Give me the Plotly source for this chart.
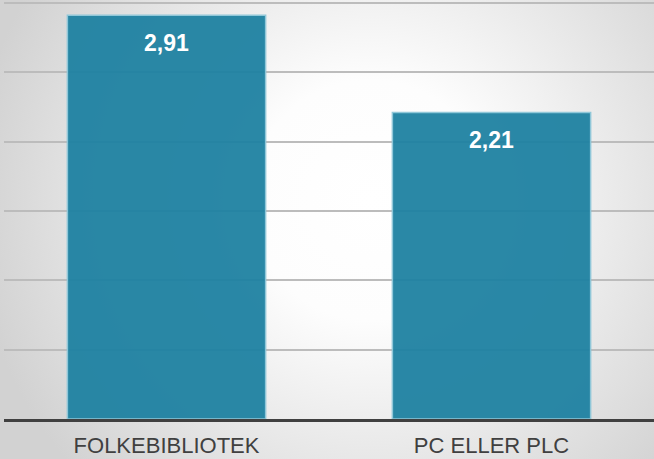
import base64
import plotly.graph_objects as go

categories = ["FOLKEBIBLIOTEK", "PC ELLER PLC"]
values = [2.91, 2.21]

W, H = 654, 459
ML, MR, MT, MB = 4, 0, 0, 40
pw, ph = W - ML - MR, H - MT - MB

svg = (
    "<svg xmlns='http://www.w3.org/2000/svg' width='654' height='459' viewBox='0 0 654 459' preserveAspectRatio='none'>"
    "<defs><radialGradient id='g' gradientUnits='userSpaceOnUse' cx='370' cy='200' r='400'>"
    "<stop offset='0' stop-color='#ffffff'/><stop offset='0.3' stop-color='#fdfdfd'/>"
    "<stop offset='1' stop-color='#d2d2d2'/></radialGradient></defs>"
    "<rect width='654' height='459' fill='url(#g)'/></svg>"
)
bg_uri = "data:image/svg+xml;base64," + base64.b64encode(svg.encode()).decode()

fig = go.Figure(
    go.Bar(
        x=categories,
        y=values,
        marker=dict(color="#1f82a2", line=dict(color="#8cc6d8", width=1.5)),
        opacity=0.95,
        hoverinfo="skip",
    )
)

for c, v in zip(categories, values):
    fig.add_annotation(
        x=c, y=v, xref="x", yref="y",
        text="<b>" + f"{v:.2f}".replace(".", ",") + "</b>",
        showarrow=False, yanchor="top", yshift=-13,
        font=dict(family="Liberation Sans, Arial", size=23, color="white"),
    )

fig.add_layout_image(
    source=bg_uri, xref="paper", yref="paper",
    x=-ML / pw, y=1 + MT / ph, sizex=W / pw, sizey=H / ph,
    xanchor="left", yanchor="top", sizing="stretch", layer="below",
)

fig.update_layout(
    width=W, height=H,
    margin=dict(l=ML, r=MR, t=MT, b=MB, pad=0, autoexpand=False),
    paper_bgcolor="#e0e0e0",
    plot_bgcolor="rgba(0,0,0,0)",
    bargap=0.39,
    showlegend=False,
    separators=", ",
    xaxis=dict(
        showline=True, linecolor="#404040", linewidth=3,
        showgrid=False, ticks="", automargin=False,
        tickfont=dict(family="Liberation Sans, Arial", size=22, color="#404040"),
        ticklabelstandoff=5,
    ),
    yaxis=dict(
        range=[0, 3.02], dtick=0.5, showticklabels=False,
        showgrid=True, gridcolor="#bcbcbc", gridwidth=1.5,
        zeroline=False, showline=False, ticks="", automargin=False,
    ),
)

fig.write_html(
    "out.html",
    config={"displayModeBar": False},
    post_script="document.body.style.margin='0';document.body.style.overflow='hidden';",
)
